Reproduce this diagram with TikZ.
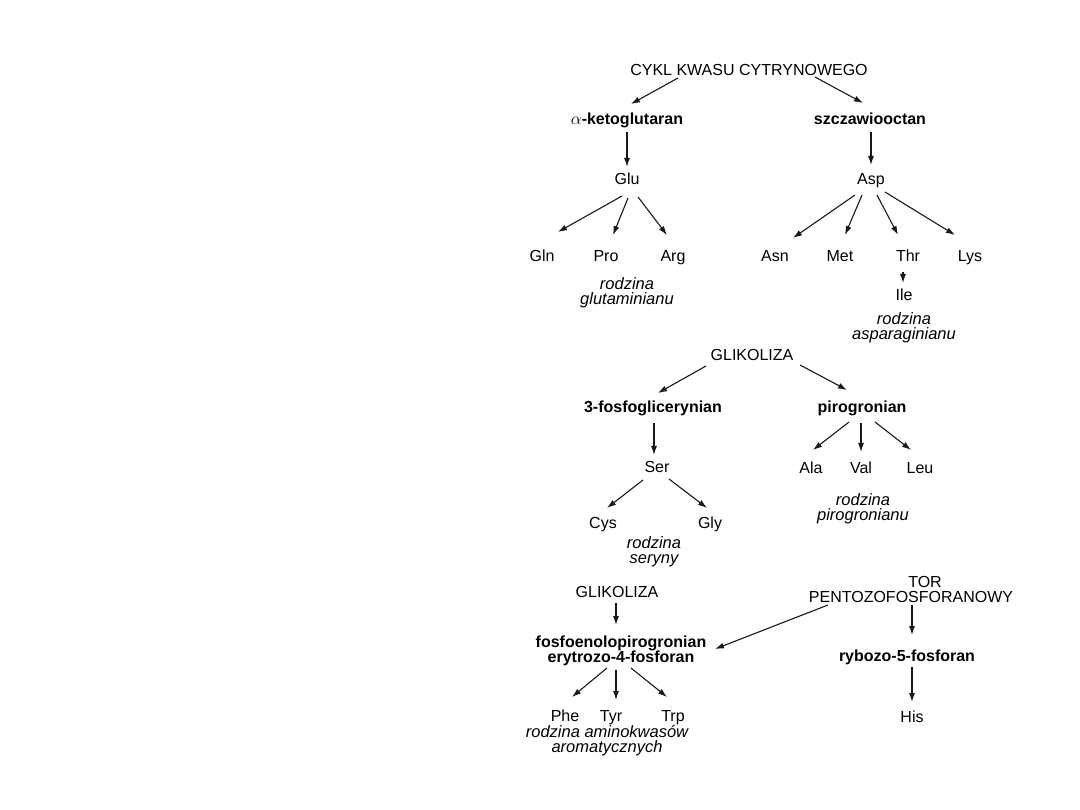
\documentclass[tikz,border=0pt]{standalone}
\usepackage{fontspec}
\setmainfont{Liberation Sans}
\usetikzlibrary{arrows.meta}
\begin{document}
\begin{tikzpicture}[x=1pt,y=-1pt,
  lbl/.style={inner sep=0pt,anchor=base,font=\fontsize{16}{15}\selectfont},
  blbl/.style={lbl,font=\fontsize{16}{15}\selectfont\bfseries},
  fam/.style={inner sep=0pt,anchor=north,align=center,font=\fontsize{16.5}{15}\selectfont\itshape},
  arr/.style={-{Latex[length=9pt,width=6pt]},line width=1.1pt,black!90}]
\useasboundingbox (0,0) rectangle (1080,810);
% nodes
\node[lbl] (cykl) at (749,76) {CYKL KWASU CYTRYNOWEGO};
\node[blbl] (aketo) at (627,125) {{\mdseries$\alpha$}-ketoglutaran};
\node[blbl] (szcz) at (870,125) {szczawiooctan};
\node[lbl] (glu) at (627,185) {Glu};
\node[lbl] (asp) at (871,185) {Asp};
\node[lbl] (gln) at (542,262) {Gln};
\node[lbl] (pro) at (606,262) {Pro};
\node[lbl] (arg) at (673,262) {Arg};
\node[lbl] (asn) at (775,262) {Asn};
\node[lbl] (met) at (840,262) {Met};
\node[lbl] (thr) at (908,262) {Thr};
\node[lbl] (lys) at (970,262) {Lys};
\node[lbl] (ile) at (904,301) {Ile};
\node[fam] (fam1) at (627,277) {rodzina\\glutaminianu};
\node[fam] (fam2) at (904,312) {rodzina\\asparaginianu};
\node[lbl] (glik) at (752,361) {GLIKOLIZA};
\node[blbl] (fos3) at (653,413) {3-fosfoglicerynian};
\node[blbl] (piro) at (862,413) {pirogronian};
\node[lbl] (ser) at (657,473) {Ser};
\node[lbl] (cys) at (603,528) {Cys};
\node[lbl] (gly) at (710,528) {Gly};
\node[fam] (fam3) at (654,536) {rodzina\\seryny};
\node[lbl] (ala) at (811,474) {Ala};
\node[lbl] (val) at (861,474) {Val};
\node[lbl] (leu) at (920,474) {Leu};
\node[fam] (fam4) at (863,493) {rodzina\\pirogronianu};
\node[lbl] (glik2) at (617,597) {GLIKOLIZA};
\node[fam,font=\fontsize{16}{15}\selectfont\bfseries] (pep) at (621,636) {fosfoenolopirogronian\\erytrozo-4-fosforan};
\node[fam,font=\fontsize{16}{15}\selectfont] (tor) at (911,576) {\hspace*{28pt}TOR\\PENTOZOFOSFORANOWY};
\node[blbl] (rib) at (907,661) {rybozo-5-fosforan};
\node[lbl] (his) at (912,722) {His};
\node[lbl] (phe) at (565,721) {Phe};
\node[lbl] (tyr) at (611,721) {Tyr};
\node[lbl] (trp) at (673,721) {Trp};
\node[fam] (fam5) at (607,725) {rodzina aminokwasów\\aromatycznych};
% connectors
\draw[arr] ([shift={(-71,2)}]cykl.base) -- ([shift={(4,-21)}]aketo.base);
\draw[arr] ([shift={(66,1)}]cykl.base) -- ([shift={(-7,-22)}]szcz.base);
\draw[arr] ([shift={(0,7)}]aketo.base) -- ([shift={(0,-18)}]glu.base);
\draw[arr] ([shift={(1,7)}]szcz.base) -- ([shift={(0,-20)}]asp.base);
\draw[arr] ([shift={(-5,11)}]glu.base) -- ([shift={(16,-30)}]gln.base);
\draw[arr] ([shift={(1,13)}]glu.base) -- ([shift={(7,-27)}]pro.base);
\draw[arr] ([shift={(11,12)}]glu.base) -- ([shift={(-6,-27)}]arg.base);
\draw[arr] ([shift={(-16,10)}]asp.base) -- ([shift={(18,-24)}]asn.base);
\draw[arr] ([shift={(-9,10)}]asp.base) -- ([shift={(5,-27)}]met.base);
\draw[arr] ([shift={(6,10)}]asp.base) -- ([shift={(-10,-27)}]thr.base);
\draw[arr] ([shift={(14,7)}]asp.base) -- ([shift={(-15,-27)}]lys.base);
\draw[arr] ([shift={(-5,10)}]thr.base) -- ([shift={(-1,-18)}]ile.base);
\draw[arr] ([shift={(-46,5)}]glik.base) -- ([shift={(5,-20)}]fos3.base);
\draw[arr] ([shift={(48,4)}]glik.base) -- ([shift={(-15,-23)}]piro.base);
\draw[arr] ([shift={(1,10)}]fos3.base) -- ([shift={(-3,-18)}]ser.base);
\draw[arr] ([shift={(-14,7)}]ser.base) -- ([shift={(4,-20)}]cys.base);
\draw[arr] ([shift={(12,6)}]ser.base) -- ([shift={(-3,-20)}]gly.base);
\draw[arr] ([shift={(-13,9)}]piro.base) -- ([shift={(2,-24)}]ala.base);
\draw[arr] ([shift={(-1,10)}]piro.base) -- ([shift={(0,-22)}]val.base);
\draw[arr] ([shift={(13,9)}]piro.base) -- ([shift={(-9,-24)}]leu.base);
\draw[arr] ([shift={(-1,6)}]glik2.base) -- ([shift={(-5,-11)}]pep.north);
\draw[arr] ([shift={(-83,29)}]tor.north) -- ([shift={(94,13)}]pep.north);
\draw[arr] ([shift={(1,29)}]tor.north) -- ([shift={(5,-26)}]rib.base);
\draw[arr] ([shift={(5,6)}]rib.base) -- ([shift={(0,-20)}]his.base);
\draw[arr] ([shift={(-14,32)}]pep.north) -- ([shift={(7,-24)}]phe.base);
\draw[arr] ([shift={(-5,34)}]pep.north) -- ([shift={(5,-21)}]tyr.base);
\draw[arr] ([shift={(10,32)}]pep.north) -- ([shift={(-6,-24)}]trp.base);
\end{tikzpicture}
\end{document}
